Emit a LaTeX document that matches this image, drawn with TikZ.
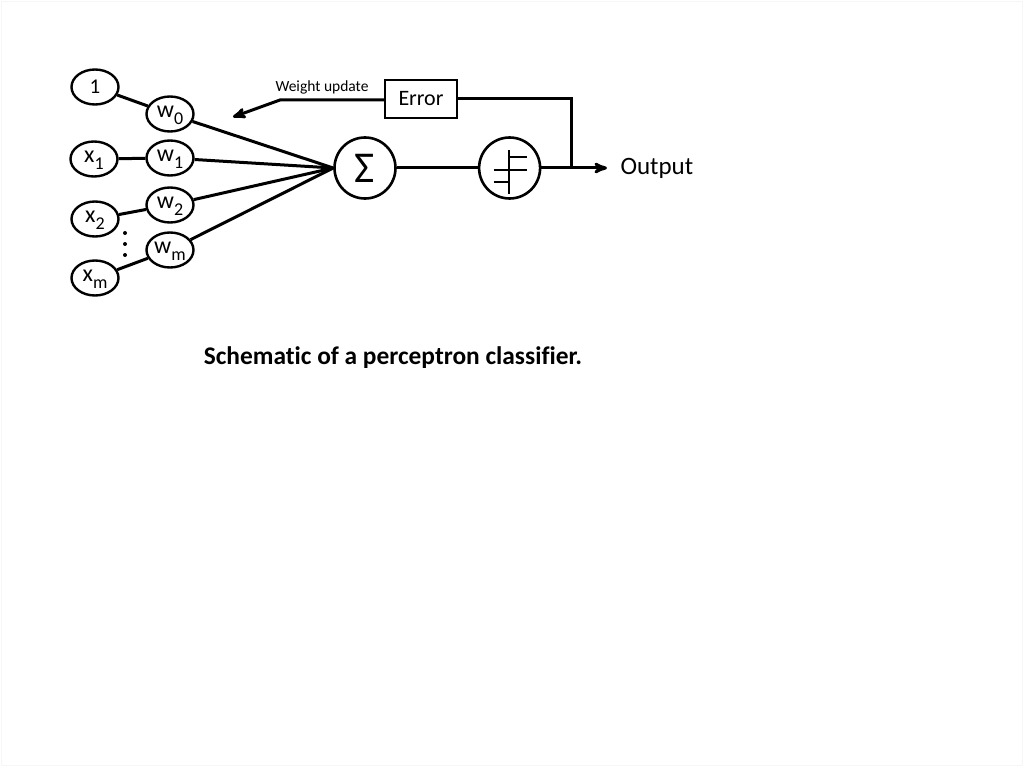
\documentclass[tikz,border=0pt]{standalone}
\usepackage{fontspec}
\setmainfont{Carlito}[Ligatures=NoCommon]
\usetikzlibrary{arrows,chains,positioning,scopes,shapes.geometric,calc}
\newcommand*{\WireWidth}{3pt}
\newcommand*{\NodeFont}{\fontsize{24}{27}\selectfont}
\newcommand*{\Idx}[1]{\raisebox{-0.3em}{\fontsize{18}{18}\selectfont #1}}

\begin{document}
\begin{tikzpicture}[>=stealth',x=1pt,y=-1pt,node distance=81pt,
  unit/.style={ellipse,draw,fill=white,line width=2.4pt,minimum width=47pt,minimum height=35pt,inner sep=0pt,
    text height=11.5pt,text depth=4.5pt,font=\NodeFont},
  bigunit/.style={circle,draw,fill=white,line width=2.6pt,minimum size=61pt,inner sep=0pt},
  wire/.style={line width=\WireWidth}]
\useasboundingbox (0,0) rectangle (1024,767);
\draw[gray!7,line width=1pt] (1.5,1.5) rectangle (1022.5,765.5);
{[start chain]
\node[on chain,bigunit,font=\fontsize{44}{46}\selectfont] (Sum) at (365,168) {Σ};
\node[on chain,join=by {wire},bigunit,right=of Sum] (Step) {};}
% inputs and weights
\node[unit,text height=13pt,text depth=0pt,font=\fontsize{21}{24}\selectfont] (One) at (95,87) {1};
\node[unit] (X1) at (94,159) {x\Idx{1}};
\node[unit] (X2) at (95,219) {x\Idx{2}};
\node[unit] (Xm) at (95,278) {x\Idx{m}};
\node[unit] (W0) at (170,114) {w\Idx{0}};
\node[unit] (W1) at (170,158) {w\Idx{1}};
\node[unit] (W2) at (170,205) {w\Idx{2}};
\node[unit] (Wm) at (170,250) {w\Idx{m}};
\draw[wire] (One) -- (W0);
\draw[wire] (X1) -- (W1);
\draw[wire] (X2) -- (W2);
\draw[wire] (Xm) -- (Wm);
\foreach \w in {W0,W1,W2,Wm}
  \draw[wire] (\w) -- (Sum.west);
\foreach \y in {233,244,255}
  \fill (125,\y) circle (2pt);
% step function
\draw[line width=1.8pt,shift={(Step.center)}] (-1,-18) -- (-1,26)
  (-1,-11) -- (17,-11) (-16,2) -- (17,2);
\draw[line width=2.8pt,shift={(Step.center)}] (-16,14) -- (-1,14);
% error feedback
\node[draw,fill=white,line width=2.5pt,minimum width=72pt,minimum height=38pt,font=\fontsize{22}{25}\selectfont] (Err) at (421,99) {Error};
\coordinate (Split) at (571,168);
\coordinate (OutEnd) at (607,168);
\coordinate (Bend) at (280,100);
\coordinate (UpdTip) at (233,117);
\draw[wire,->] (Step) -- (OutEnd);
\draw[wire] (Split) |- (Err.east);
\draw[wire,->] (Err.west |- Bend) -- (Bend) -- (UpdTip);
\node[font=\fontsize{15.5}{18}\selectfont] (Upd) at (322,87) {Weight update};
\node[right=10pt of OutEnd,font=\fontsize{25}{28}\selectfont] (Out) {Output};
\node[font=\bfseries\fontsize{25.4}{28}\selectfont] (Caption) at (393,358) {Schematic of a perceptron classifier.};
\end{tikzpicture}
\end{document}
